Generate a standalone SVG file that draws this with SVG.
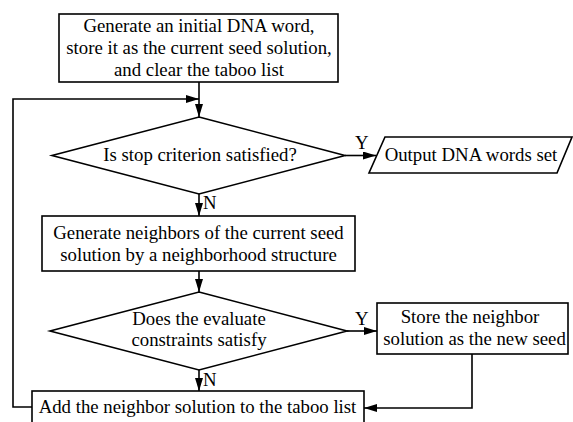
<svg xmlns="http://www.w3.org/2000/svg" width="573" height="422" viewBox="0 0 573 422">
<style>
.s{fill:#fff;stroke:#000;stroke-width:1.6}
.c{fill:none;stroke:#000;stroke-width:1.6}
text{font-family:"Liberation Serif","Times New Roman",serif;font-size:18.8px;fill:#000;text-anchor:middle}
.l{text-anchor:start}
</style>
<defs>
<marker id="a" markerUnits="userSpaceOnUse" markerWidth="14" markerHeight="10" refX="13" refY="4" orient="auto">
<path d="M0,0 L13,4 L0,8 Z" fill="#000"/>
</marker>
</defs>
<rect width="573" height="422" fill="#fff"/>
<g id="connectors">
<path class="c" d="M199,82 V117" marker-end="url(#a)"/>
<path class="c" d="M32,407 H13 V99 H199" marker-end="url(#a)"/>
<path class="c" d="M345,155.5 H376" marker-end="url(#a)"/>
<path class="c" d="M199,194 V216" marker-end="url(#a)"/>
<path class="c" d="M199,271 V292" marker-end="url(#a)"/>
<path class="c" d="M347,331 H377" marker-end="url(#a)"/>
<path class="c" d="M199,370 V391" marker-end="url(#a)"/>
<path class="c" d="M472,354 V408 H364" marker-end="url(#a)"/>
<text class="l" x="355" y="149">Y</text>
<text class="l" x="203" y="209">N</text>
<text class="l" x="355" y="325">Y</text>
<text class="l" x="203" y="386">N</text>
</g>
<g id="start">
<rect class="s" x="59" y="14" width="279" height="68"/>
<text x="199" y="32">Generate an initial DNA word,</text>
<text x="199" y="54">store it as the current seed solution,</text>
<text x="199" y="76">and clear the taboo list</text>
</g>
<g id="stop">
<polygon class="s" points="199,117 345,155.5 199,194 52,155.5"/>
<text x="200" y="161">Is stop criterion satisfied?</text>
</g>
<g id="output">
<polygon class="s" points="385,137 572,137 557,173 369,173"/>
<text x="471" y="161">Output DNA words set</text>
</g>
<g id="neighbors">
<rect class="s" x="42" y="216" width="313" height="55"/>
<text x="198.5" y="239">Generate neighbors of the current seed</text>
<text x="198.5" y="261">solution by a neighborhood structure</text>
</g>
<g id="evaluate">
<polygon class="s" points="199,292 347,331 199,370 50,331"/>
<text x="199" y="325">Does the evaluate</text>
<text x="199" y="346">constraints satisfy</text>
</g>
<g id="store">
<rect class="s" x="377" y="303" width="191" height="51"/>
<text x="470" y="323">Store the neighbor</text>
<text x="474.5" y="345">solution as the new seed</text>
</g>
<g id="taboo">
<rect class="s" x="32" y="391" width="332" height="40"/>
<text x="197.5" y="413">Add the neighbor solution to the taboo list</text>
</g>
</svg>
